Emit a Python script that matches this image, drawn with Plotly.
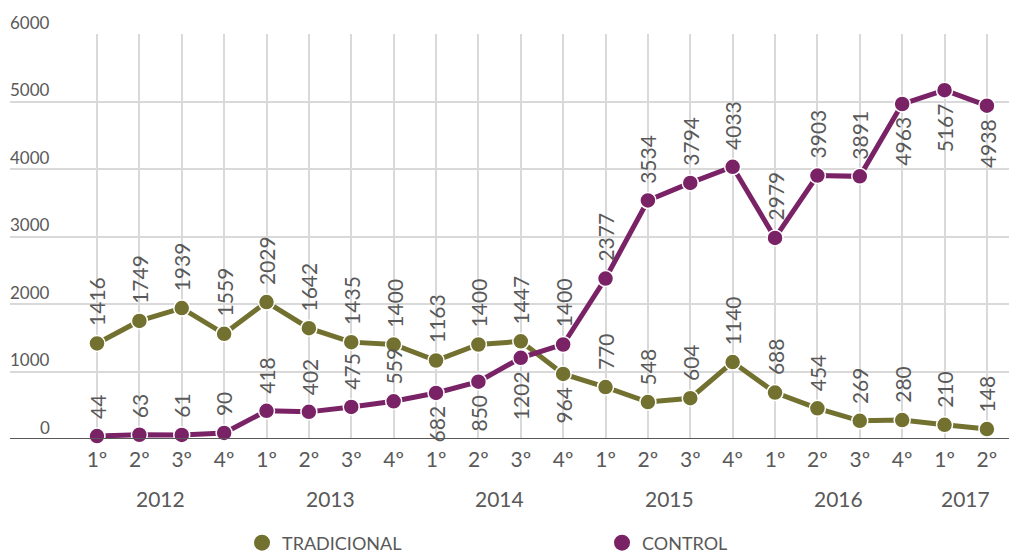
import plotly.graph_objects as go

quarters = ["1º", "2º", "3º", "4º", "1º", "2º", "3º", "4º", "1º", "2º", "3º", "4º",
            "1º", "2º", "3º", "4º", "1º", "2º", "3º", "4º", "1º", "2º"]
years = ["2012", "2013", "2014", "2015", "2016", "2017"]
year_counts = [4, 4, 4, 4, 4, 2]
tradicional = [1416, 1749, 1939, 1559, 2029, 1642, 1435, 1400, 1163, 1400, 1447, 964,
               770, 548, 604, 1140, 688, 454, 269, 280, 210, 148]
control = [44, 63, 61, 90, 418, 402, 475, 559, 682, 850, 1202, 1400,
           2377, 3534, 3794, 4033, 2979, 3903, 3891, 4963, 5167, 4938]
# label placement: 1 above, -1 below
trad_pos = [1] * 11 + [-1] + [1] * 10
ctrl_pos = [1] * 8 + [-1] * 3 + [1] * 8 + [-1] * 3
y_ticks = [0, 1000, 2000, 3000, 4000, 5000, 6000]

OLIVE = "#727130"
PURPLE = "#7A2266"
TXT = "#595959"
FONT = "Lato"

x = list(range(len(quarters)))
fig = go.Figure()
for name, vals, col in [("TRADICIONAL", tradicional, OLIVE), ("CONTROL", control, PURPLE)]:
    fig.add_trace(go.Scatter(
        x=x, y=vals, mode="lines+markers", name=name, showlegend=False,
        line=dict(color=col, width=5),
        marker=dict(size=16, color=col, line=dict(color="white", width=1.5)),
        cliponaxis=False,
    ))
for name, col in [("TRADICIONAL", OLIVE), ("CONTROL", PURPLE)]:
    fig.add_trace(go.Scatter(
        x=[None], y=[None], mode="markers", name=name,
        marker=dict(size=20, color=col),
    ))

ann = []
for vals, pos in [(tradicional, trad_pos), (control, ctrl_pos)]:
    for i, (v, p) in enumerate(zip(vals, pos)):
        ann.append(dict(
            x=i, y=v, xref="x", yref="y", text=str(v), showarrow=False,
            textangle=-90, xanchor="center",
            yanchor="bottom" if p > 0 else "top",
            yshift=15 if p > 0 else -11,
            font=dict(family=FONT, size=21, color=TXT),
        ))
for t in y_ticks:
    ann.append(dict(
        x=(52 - 10) / 1007, y=t, xref="paper", yref="y", text=str(t),
        showarrow=False, xanchor="right", yanchor="middle", yshift=12,
        font=dict(family=FONT, size=17, color=TXT),
    ))
start = 0
for yr, n in zip(years, year_counts):
    ann.append(dict(
        x=start + (n - 1) / 2, y=0, xref="x", yref="paper", text=yr,
        showarrow=False, xanchor="center", yanchor="middle", yshift=-59,
        font=dict(family=FONT, size=21, color=TXT),
    ))
    start += n

fig.update_layout(
    width=1009, height=545,
    margin=dict(l=2, r=0, t=26, b=114, autoexpand=False),
    paper_bgcolor="white", plot_bgcolor="white",
    font=dict(family=FONT, color=TXT),
    xaxis=dict(
        range=[-2.053, 21.71], tickmode="array", tickvals=x, ticktext=quarters,
        showgrid=True, gridcolor="#D9D9D9", gridwidth=2, zeroline=False,
        showline=False, ticks="", tickfont=dict(family=FONT, size=21, color=TXT),
        ticklabelstandoff=6, automargin=False,
    ),
    yaxis=dict(
        range=[0, 6000], tickvals=y_ticks, showticklabels=False,
        showgrid=True, gridcolor="#D9D9D9", gridwidth=2, zeroline=False,
        showline=False, automargin=False,
    ),
    shapes=[dict(type="line", xref="paper", yref="y", x0=0, x1=1, y0=0, y1=0,
                 line=dict(color="#595959", width=2))],
    annotations=ann,
    legend=dict(
        orientation="h", x=(242 - 10) / 1007, xanchor="left",
        y=-(543 - 439) / 405, yanchor="middle",
        font=dict(family=FONT, size=18, color=TXT),
        entrywidth=315, entrywidthmode="pixels", bgcolor="rgba(0,0,0,0)",
    ),
)
fig.write_html("out.html")
